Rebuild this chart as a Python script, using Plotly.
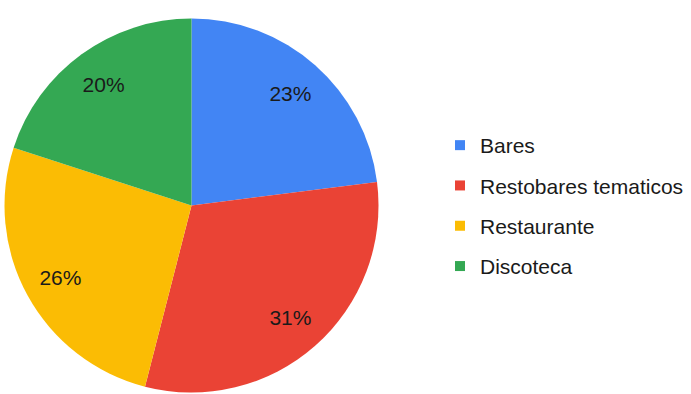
import plotly.graph_objects as go

categories = ["Bares", "Restobares tematicos", "Restaurante", "Discoteca"]
shares = [23, 31, 26, 20]
colors = ["#4285F4", "#EA4335", "#FBBC04", "#34A853"]

W, H = 691, 394
FONT = "Liberation Sans, Arial, sans-serif"
PIE_DOMAIN = dict(x=[4.5 / W, 378.5 / W], y=[1.5 / H, 375.5 / H])

fig = go.Figure()

# filled slices
fig.add_trace(go.Pie(
    labels=categories,
    values=shares,
    marker=dict(colors=colors, line=dict(width=0)),
    sort=False,
    direction="clockwise",
    rotation=0,
    textposition="none",
    showlegend=False,
    hoverinfo="label+percent",
    domain=PIE_DOMAIN,
))

# transparent ring on top, so the percentage labels sit near the rim
fig.add_trace(go.Pie(
    labels=categories,
    values=shares,
    hole=0.6,
    marker=dict(colors=["rgba(0,0,0,0)"] * len(shares), line=dict(width=0)),
    sort=False,
    direction="clockwise",
    rotation=0,
    texttemplate="%{value}%",
    textposition="inside",
    insidetextorientation="horizontal",
    textfont=dict(family=FONT, size=21, color="#1a1a1a"),
    showlegend=False,
    hoverinfo="skip",
    domain=PIE_DOMAIN,
))

# legend entries (one per category, spaced apart)
for name, col in zip(categories, colors):
    fig.add_trace(go.Scatter(
        x=[None], y=[None], mode="markers", name=name,
        legendgroup=name,
        marker=dict(symbol="square", size=10, color=col),
    ))

fig.update_layout(
    width=W, height=H,
    margin=dict(l=0, r=0, t=0, b=0),
    paper_bgcolor="white", plot_bgcolor="white",
    xaxis=dict(visible=False), yaxis=dict(visible=False),
    legend=dict(
        x=440 / W, y=1 - 125 / H, xanchor="left", yanchor="top",
        font=dict(family=FONT, size=21, color="#1a1a1a"),
        tracegroupgap=10, itemwidth=30,
        bgcolor="rgba(0,0,0,0)",
    ),
)

fig.write_html("out.html")
